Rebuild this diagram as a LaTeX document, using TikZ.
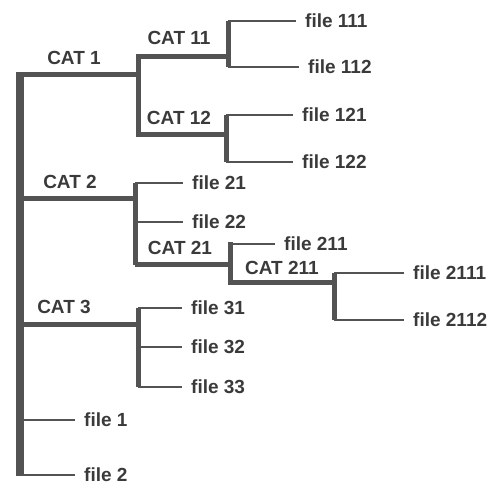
\documentclass[tikz,border=0pt]{standalone}
\usepackage{fontspec}
\setsansfont{Liberation Sans}
\usepackage{tikz}
\usetikzlibrary{positioning}
\definecolor{trGray}{HTML}{535353}
\definecolor{trInk}{HTML}{3A3A3A}

\begin{document}
\begin{tikzpicture}[
  x=1pt,y=-1pt,
  every node/.style={font=\sffamily\bfseries\fontsize{19}{21}\selectfont,text=trInk},
  trunk/.style={draw=trGray,line width=8pt},
  branch/.style={draw=trGray,line width=5pt},
  twig/.style={draw=trGray,line width=2.8pt},
  leaf/.style={anchor=west,inner xsep=9pt,inner ysep=0pt},
  cat/.style={inner sep=0pt}
]
  \useasboundingbox (0,0) rectangle (496,486);

  \coordinate (rootTop) at (19.5,72.5);
  \coordinate (rootBot) at (19.5,476.5);
  \coordinate (a1) at (19.5,75);
  \coordinate (a1t) at (138,57);
  \coordinate (a1b) at (138,135);
  \coordinate (a11t) at (228,21);
  \coordinate (a11b) at (228,67);
  \coordinate (a12t) at (226,115);
  \coordinate (a12b) at (226,162);
  \coordinate (a2) at (19.5,199);
  \coordinate (a2t) at (135,183);
  \coordinate (a2b) at (135,265);
  \coordinate (a21t) at (230,245);
  \coordinate (a21b) at (230,283);
  \coordinate (a211t) at (334,273);
  \coordinate (a211b) at (334,320);
  \coordinate (a3) at (19.5,325);
  \coordinate (a3t) at (138,308);
  \coordinate (a3b) at (138,387);

  \node[cat] (cat1) at (74,58) {CAT 1};
  \node[cat] (cat11) at (179,38) {CAT 11};
  \node[cat] (cat12) at (179,118) {CAT 12};
  \node[cat] (cat2) at (70,182) {CAT 2};
  \node[cat] (cat21) at (180,248) {CAT 21};
  \node[cat] (cat211) at (282,268) {CAT 211};
  \node[cat] (cat3) at (64,307) {CAT 3};

  \node[leaf] (f111) at (296,21) {file 111};
  \node[leaf] (f112) at (299,67) {file 112};
  \node[leaf] (f121) at (293,115) {file 121};
  \node[leaf] (f122) at (293,162) {file 122};
  \node[leaf] (f21) at (183,183) {file 21};
  \node[leaf] (f22) at (183,222) {file 22};
  \node[leaf] (f211) at (275,244) {file 211};
  \node[leaf] (f2111) at (404,273) {file 2111};
  \node[leaf] (f2112) at (404,320) {file 2112};
  \node[leaf] (f31) at (182,308) {file 31};
  \node[leaf] (f32) at (182,347) {file 32};
  \node[leaf] (f33) at (182,387) {file 33};
  \node[leaf] (f1) at (75,420) {file 1};
  \node[leaf] (f2) at (75,475) {file 2};

  \draw[trunk] (rootTop) -- (rootBot);

  \draw[branch] (a1) -- (a1t |- a1);
  \draw[branch,line cap=rect] (a1t) -- (a1b);
  \draw[branch] (a1t) -- (a11t |- a1t);
  \draw[branch] (a1b) -- (a12t |- a1b);
  \draw[branch] (a11t) -- (a11b);
  \draw[branch] (a12t) -- (a12b);
  \draw[twig] (a11t) -- (f111.west);
  \draw[twig] (a11b) -- (f112.west);
  \draw[twig] (a12t) -- (f121.west);
  \draw[twig] (a12b) -- (f122.west);

  \draw[branch] (a2) -- (a2t |- a2);
  \draw[branch] (a2t) -- (a2b);
  \draw[branch] (a2b) -- (a21t |- a2b);
  \draw[branch,line cap=rect] (a21t) -- (a21b);
  \draw[branch] (a21b) -- (a211t |- a21b);
  \draw[branch] (a211t) -- (a211b);
  \draw[twig] (a2t) -- (f21.west);
  \draw[twig] (a2t |- f22.west) -- (f22.west);
  \draw[twig] (a21t |- f211.west) -- (f211.west);
  \draw[twig] (a211t) -- (f2111.west);
  \draw[twig] (a211b) -- (f2112.west);

  \draw[branch] (a3) -- (a3t |- a3);
  \draw[branch] (a3t) -- (a3b);
  \draw[twig] (a3t) -- (f31.west);
  \draw[twig] (a3t |- f32.west) -- (f32.west);
  \draw[twig] (a3b) -- (f33.west);

  \draw[twig] (rootTop |- f1.west) -- (f1.west);
  \draw[twig] (rootTop |- f2.west) -- (f2.west);
\end{tikzpicture}
\end{document}
